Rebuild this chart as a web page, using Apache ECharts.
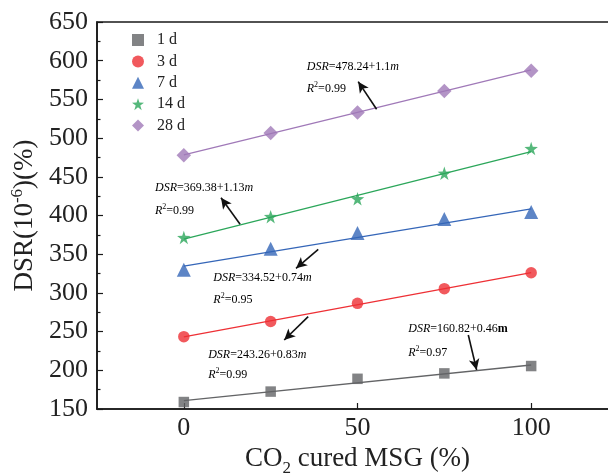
<!DOCTYPE html>
<html><head><meta charset="utf-8">
<script src="https://cdn.jsdelivr.net/npm/echarts@6/dist/echarts.min.js"></script>
<style>html,body{margin:0;padding:0;background:#fff}#c{width:608px;height:474px}</style>
</head><body><div id="c"></div>
<script>
// ---- data ----
const xValues = [0, 25, 50, 75, 100];
const seriesNames = ['1 d', '3 d', '7 d', '14 d', '28 d'];
const dsr1d  = [159, 172.5, 189, 196, 205.5];
const dsr3d  = [243.5, 263, 286.5, 305.5, 326];
const dsr7d  = [330, 357, 377.5, 395.5, 404.5];
const dsr14d = [371.5, 398.5, 421.5, 454.5, 486.5];
const dsr28d = [478, 506.5, 533, 561, 587];
const fitStart = [160.82, 243.26, 334.52, 369.38, 478.24];  // fit value at x = 0
const fitEnd   = [206.82, 326.26, 408.52, 482.38, 588.24];  // fit value at x = 100
const eqIntercept = ['160.82', '243.26', '334.52', '369.38', '478.24'];
const eqSlope     = ['0.46', '0.83', '0.74', '1.13', '1.1'];
const eqR2        = ['0.97', '0.99', '0.95', '0.99', '0.99'];
const xTickValues = [0, 50, 100];
const yTickMin = 150, yTickMax = 650, yTickStep = 50;

// ---- styles / positions ----
const FONT = 'Liberation Serif';
const colors = ['#636466', '#ee3035', '#3566b8', '#2ba65a', '#a079b8'];
const symbols = ['rect', 'circle', 'triangle', 'path://M50,0 L61.8,36.2 L100,38.2 L69.1,61.8 L80.9,100 L50,76.4 L19.1,100 L30.9,61.8 L0,38.2 L38.2,36.2 Z', 'diamond'];
const symbolSizes = [10.5, 11.5, 14, 13.5, 14.5];
const allData = [dsr1d, dsr3d, dsr7d, dsr14d, dsr28d];
// annotation anchors in data coordinates: [textX, eqY, r2Y], arrow [tailX, tailY, headX, headY]
const annoText = [[64.6, 254.3, 224.0], [7.0, 220.7, 195.2], [8.5, 320.9, 292.1], [-8.3, 436.8, 407.1], [35.4, 593.2, 564.3]];
const annoArrow = [[81.9, 245.6, 84.3, 200.4], [35.8, 269.3, 28.9, 239.1], [38.7, 356.3, 32.3, 331.8], [16.2, 388.6, 10.7, 423], [55.5, 537.2, 50.2, 572.9]];

const chart = echarts.init(document.getElementById('c'), null, {renderer: 'canvas'});

const series = [];
seriesNames.forEach((name, i) => {
  series.push({
    name: name, type: 'scatter',
    data: xValues.map((x, k) => [x, allData[i][k]]),
    symbol: symbols[i], symbolSize: symbolSizes[i],
    itemStyle: {color: colors[i]}, z: 5
  });
  series.push({
    name: name + ' fit', type: 'line',
    data: [[0, fitStart[i]], [100, fitEnd[i]]],
    showSymbol: false, symbol: 'none',
    lineStyle: {color: colors[i], width: 1.3}, z: 3, silent: true,
    markLine: {
      silent: true, symbol: ['none', 'arrow'], symbolSize: [8, 11],
      label: {show: false},
      lineStyle: {color: '#111', width: 1.6, type: 'solid'},
      emphasis: {disabled: true},
      data: [[{coord: [annoArrow[i][0], annoArrow[i][1]]}, {coord: [annoArrow[i][2], annoArrow[i][3]]}]]
    }
  });
});

const axisColor = '#1a1a1a';
chart.setOption({
  animation: false,
  backgroundColor: '#fff',
  grid: {left: 97, top: 22, width: 521, height: 387, show: true, borderColor: axisColor, borderWidth: 1.6, containLabel: false, outerBoundsMode: 'none'},
  legend: {
    orient: 'vertical', left: 127, top: 27, itemWidth: 12, itemHeight: 12, itemGap: 5.4,
    data: seriesNames.map((n, i) => ({name: n, icon: symbols[i]})),
    textStyle: {fontFamily: FONT, fontSize: 16, color: '#222', padding: [0, 0, 0, 8]},
    selectedMode: false
  },
  xAxis: {
    type: 'value', min: -25, max: 125,
    name: '{n|CO}{sub|2}{n| cured MSG (%)}', nameLocation: 'middle', nameGap: 31,
    nameTextStyle: {fontFamily: FONT, color: '#222', rich: {
      n: {fontFamily: FONT, fontSize: 27, color: '#222', lineHeight: 27, verticalAlign: 'top'},
      sub: {fontFamily: FONT, fontSize: 17, color: '#222', lineHeight: 17, padding: [14, 0, 0, 0], verticalAlign: 'top'}
    }},
    axisLine: {show: true, onZero: false, lineStyle: {color: axisColor, width: 1.6}},
    axisTick: {show: true, inside: true, length: 6, customValues: xTickValues, lineStyle: {color: axisColor, width: 1.2}},
    axisLabel: {show: true, customValues: xTickValues, margin: 6, fontFamily: FONT, fontSize: 26, color: '#222'},
    splitLine: {show: false}, minorTick: {show: false}
  },
  yAxis: {
    type: 'value', min: yTickMin, max: yTickMax, interval: yTickStep,
    name: '{n|DSR(10}{sup|-6}{n|)(%)}', nameLocation: 'middle', nameGap: 58, nameRotate: 90,
    nameTextStyle: {fontFamily: FONT, color: '#222', rich: {
      n: {fontFamily: FONT, fontSize: 27, color: '#222', lineHeight: 27, verticalAlign: 'bottom'},
      sup: {fontFamily: FONT, fontSize: 17, color: '#222', lineHeight: 17, padding: [0, 0, 12, 0], verticalAlign: 'bottom'}
    }},
    axisLine: {show: true, onZero: false, lineStyle: {color: axisColor, width: 1.6}},
    axisTick: {show: true, inside: true, length: 6, lineStyle: {color: axisColor, width: 1.2}},
    minorTick: {show: true, splitNumber: 2, length: 3.5, lineStyle: {color: axisColor, width: 1.2}},
    axisLabel: {margin: 9, fontFamily: FONT, fontSize: 26, color: '#222'},
    splitLine: {show: false}
  },
  series: series
});

// annotation texts placed from data coordinates
const graphics = [];
const eqRich = {
  i: {fontFamily: FONT, fontSize: 12, fontStyle: 'italic', color: '#333', lineHeight: 14, verticalAlign: 'bottom'},
  n: {fontFamily: FONT, fontSize: 12, color: '#333', lineHeight: 14, verticalAlign: 'bottom'},
  b: {fontFamily: FONT, fontSize: 12, fontWeight: 'bold', color: '#333', lineHeight: 14, verticalAlign: 'bottom'},
  sup: {fontFamily: FONT, fontSize: 8, color: '#333', lineHeight: 8, padding: [0, 0, 6, 0], verticalAlign: 'bottom'}
};
seriesNames.forEach((n, i) => {
  const p1 = chart.convertToPixel({gridIndex: 0}, [annoText[i][0], annoText[i][1]]);
  const p2 = chart.convertToPixel({gridIndex: 0}, [annoText[i][0], annoText[i][2]]);
  const mTag = i === 0 ? 'b' : 'i';
  graphics.push({type: 'text', x: p1[0], y: p1[1], silent: true, style: {
    text: '{i|DSR}{n|=' + eqIntercept[i] + '+' + eqSlope[i] + '}{' + mTag + '|m}',
    rich: eqRich, verticalAlign: 'middle', align: 'left'}});
  graphics.push({type: 'text', x: p2[0], y: p2[1], silent: true, style: {
    text: '{i|R}{sup|2}{n|=' + eqR2[i] + '}',
    rich: eqRich, verticalAlign: 'middle', align: 'left'}});
});
chart.setOption({graphic: graphics});
</script></body></html>
